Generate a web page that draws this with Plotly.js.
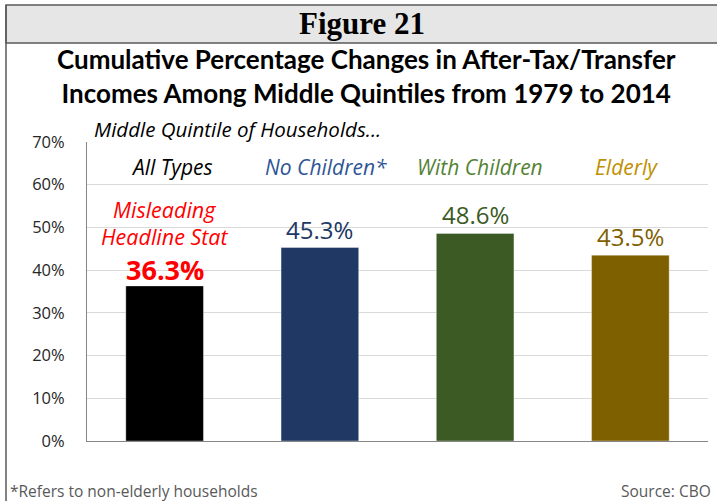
<!DOCTYPE html>
<html>
<head>
<meta charset="utf-8">
<script src="https://cdn.plot.ly/plotly-3.0.1.min.js"></script>
<style>
html,body{margin:0;padding:0;background:#fff;}
#chart{width:717px;height:501px;}
</style>
</head>
<body>
<div id="chart"></div>
<script>
// ---- data ----
var categories = ["All Types", "No Children*", "With Children", "Elderly"];
var values = [36.3, 45.3, 48.6, 43.5];
var valueLabels = ["36.3%", "45.3%", "48.6%", "43.5%"];
var barColors = ["#000000", "#203864", "#3b5a24", "#7f6000"];
var labelColors = ["#000000", "#2f5597", "#548235", "#bf9000"];
var valueColors = ["#ff0000", "#203864", "#3b5a24", "#7f6000"];
var tickVals = [0, 10, 20, 30, 40, 50, 60, 70];
var tickText = ["0%", "10%", "20%", "30%", "40%", "50%", "60%", "70%"];
var figTitle = "Figure 21";
var chartTitle = "Cumulative Percentage Changes in After-Tax/Transfer<br>Incomes Among Middle Quintiles from 1979 to 2014";
var subTitle = "Middle Quintile of Households...";
var noteText = "*Refers to non-elderly households";
var sourceText = "Source: CBO";
var calloutLines = ["Misleading", "Headline Stat"];

// ---- layout geometry (pixels) ----
var W = 717, H = 501;
var L = 87, R = 708, T = 142, B = 441;
function px(x){ return (x - L) / (R - L); }
function py(y){ return (B - y) / (B - T); }

var FONT = "Lato, 'Open Sans', sans-serif";
var SANS = "'Open Sans', 'Noto Sans', sans-serif";

var trace = {
  type: "bar",
  x: categories,
  y: values,
  marker: {color: barColors, line: {color: "rgba(255,255,255,0.35)", width: 1}},
  hoverinfo: "none"
};

var annotations = [];
// header and titles
annotations.push({xref:"paper", yref:"paper", x:px(362), y:py(23), text:"<b>"+figTitle+"</b>",
  showarrow:false, xanchor:"center", yanchor:"middle",
  font:{family:"'Liberation Serif', serif", size:31, color:"#000"}});
annotations.push({xref:"paper", yref:"paper", x:px(366), y:py(76), text:"<b>"+chartTitle+"</b>",
  showarrow:false, xanchor:"center", yanchor:"middle", align:"center",
  font:{family:FONT, size:26, color:"#000"}});
annotations.push({xref:"paper", yref:"paper", x:px(92), y:py(129), text:"<i>"+subTitle+"</i>",
  showarrow:false, xanchor:"left", yanchor:"middle",
  font:{family:SANS, size:20.5, color:"#000"}});
// footer
annotations.push({xref:"paper", yref:"paper", x:px(8), y:py(491), text:noteText,
  showarrow:false, xanchor:"left", yanchor:"middle",
  font:{family:SANS, size:15.5, color:"#595959"}});
annotations.push({xref:"paper", yref:"paper", x:px(713), y:py(491), text:sourceText,
  showarrow:false, xanchor:"right", yanchor:"middle",
  font:{family:SANS, size:15.5, color:"#595959"}});

// category labels inside plot top
var catShift = [7, 6, 5, -4];
for (var i = 0; i < categories.length; i++) {
  annotations.push({x:categories[i], y:64.2, xref:"x", yref:"y", text:"<i>"+categories[i]+"</i>",
    showarrow:false, xanchor:"center", yanchor:"middle", xshift:catShift[i],
    font:{family:SANS, size:21, color:labelColors[i]}});
}
// value labels
for (var j = 0; j < values.length; j++) {
  var isFirst = (j === 0);
  var ann = {x:categories[j], y:values[j], xref:"x", yref:"y",
    text: isFirst ? "<b>"+valueLabels[j]+"</b>" : valueLabels[j],
    showarrow:false, xanchor:"center", yanchor:"bottom", yshift: 0,
    font:{family:SANS, size: isFirst ? 27 : 24, color:valueColors[j]}};
  if (isFirst) { ann.height = 30; ann.valign = "middle"; }
  annotations.push(ann);
}
// callout (two lines)
var calloutShift = [60, 33];
for (var k = 0; k < calloutLines.length; k++) {
  annotations.push({x:categories[0], y:values[0], xref:"x", yref:"y", text:"<i>"+calloutLines[k]+"</i>",
    showarrow:false, xanchor:"center", yanchor:"bottom", yshift:calloutShift[k], align:"center",
    font:{family:SANS, size:21.5, color:"#ff0000"}});
}

var shapes = [
  // header band
  {type:"rect", xref:"paper", yref:"paper", x0:px(6), x1:px(730), y0:py(43), y1:py(5),
   fillcolor:"#e6e6e6", line:{color:"#595959", width:1.5}, layer:"below"},
  // left border
  {type:"line", xref:"paper", yref:"paper", x0:px(6), x1:px(6), y0:py(5), y1:py(510),
   line:{color:"#595959", width:1.5}}
];

var layout = {
  width: W, height: H,
  margin: {l: L, r: W - R, t: T, b: H - B, pad: 0},
  paper_bgcolor: "#ffffff",
  plot_bgcolor: "#ffffff",
  showlegend: false,
  bargap: 0.5,
  xaxis: {
    showticklabels: false, ticks: "", showgrid: false, zeroline: false,
    showline: true, linecolor: "#868686", linewidth: 1, fixedrange: true
  },
  yaxis: {
    range: [0, 70], tickvals: tickVals, ticktext: tickText,
    showgrid: true, gridcolor: "#d9d9d9", gridwidth: 1, zeroline: false,
    showline: true, linecolor: "#868686", linewidth: 1, ticks: "",
    ticklabelstandoff: 18,
    tickfont: {family: SANS, size: 16.5, color: "#262626"}, fixedrange: true
  },
  annotations: annotations,
  shapes: shapes
};

Plotly.newPlot("chart", [trace], layout, {displayModeBar: false, staticPlot: true});
</script>
</body>
</html>
